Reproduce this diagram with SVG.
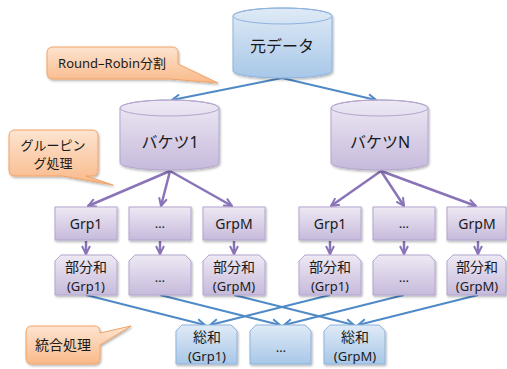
<svg xmlns="http://www.w3.org/2000/svg" width="507" height="369" viewBox="0 0 507 369">
<defs>
<linearGradient id="gBlue" x1="0" y1="0" x2="0" y2="1"><stop offset="0" stop-color="#dfeaf6"/><stop offset="1" stop-color="#a8c7e7"/></linearGradient>
<linearGradient id="gPurp" x1="0" y1="0" x2="0" y2="1"><stop offset="0" stop-color="#eee9f4"/><stop offset="1" stop-color="#c6badb"/></linearGradient>
<linearGradient id="gOr" x1="0" y1="0" x2="0" y2="1"><stop offset="0" stop-color="#fde4d0"/><stop offset="1" stop-color="#f9b98a"/></linearGradient>
<marker id="aP" viewBox="0 0 10 10" refX="9" refY="5" markerWidth="4" markerHeight="4" orient="auto" markerUnits="strokeWidth"><path d="M1,1 L9,5 L1,9" fill="none" stroke="#8a74b8" stroke-width="2"/></marker>
<marker id="aB" viewBox="0 0 10 10" refX="9" refY="5" markerWidth="5" markerHeight="5" orient="auto" markerUnits="strokeWidth"><path d="M1,1 L9,5 L1,9" fill="none" stroke="#4f8ac6" stroke-width="2"/></marker>
<filter id="sh" x="-10%" y="-10%" width="130%" height="130%"><feDropShadow dx="1" dy="1.5" stdDeviation="1" flood-color="#000" flood-opacity="0.3"/></filter>
</defs>
<style>
text{font-family:"Noto Sans","Noto Sans CJK JP",sans-serif;fill:#1a1a1a;text-anchor:middle}
.t16{font-size:16px}
.t14{font-size:14px}
.t13{font-size:13px}
.p{fill:url(#gPurp);stroke:#b3a6cf;stroke-width:1}
.b{fill:url(#gBlue);stroke:#8eb3dd;stroke-width:1}
.o{fill:url(#gOr);stroke:#f2a265;stroke-width:1}
.ap{stroke:#8a74b8;stroke-width:2.5;fill:none;marker-end:url(#aP)}
.ab{stroke:#4f8ac6;stroke-width:2;fill:none;marker-end:url(#aB)}
</style>

<g id="connectors">
<line class="ab" x1="282" y1="78" x2="172" y2="100"/>
<line class="ab" x1="282" y1="78" x2="376" y2="100"/>
<line class="ap" x1="170" y1="171" x2="88" y2="206"/>
<line class="ap" x1="170" y1="171" x2="161" y2="206"/>
<line class="ap" x1="170" y1="171" x2="232" y2="206"/>
<line class="ap" x1="381" y1="171" x2="331" y2="206"/>
<line class="ap" x1="381" y1="171" x2="404" y2="206"/>
<line class="ap" x1="381" y1="171" x2="476" y2="206"/>
<line class="ap" x1="86" y1="241" x2="86" y2="254"/>
<line class="ap" x1="160" y1="241" x2="160" y2="254"/>
<line class="ap" x1="234" y1="241" x2="234" y2="254"/>
<line class="ap" x1="330" y1="241" x2="330" y2="254"/>
<line class="ap" x1="404" y1="241" x2="404" y2="254"/>
<line class="ap" x1="478" y1="241" x2="478" y2="254"/>
<line class="ab" x1="86" y1="295" x2="205" y2="325"/>
<line class="ab" x1="160" y1="295" x2="280" y2="325"/>
<line class="ab" x1="234" y1="295" x2="354" y2="325"/>
<line class="ab" x1="330" y1="295" x2="210" y2="325"/>
<line class="ab" x1="404" y1="295" x2="284" y2="325"/>
<line class="ab" x1="478" y1="295" x2="358" y2="325"/>
</g>

<g id="src">
<path class="b" filter="url(#sh)" d="M233,16 A49.5,8 0 0 1 332,16 L332,71 A49.5,7 0 0 1 233,71 Z"/>
<ellipse cx="282.5" cy="16" rx="49.5" ry="8" fill="none" stroke="#8eb3dd"/>
<text class="t16" x="282" y="52">元データ</text>
</g>

<g id="bucket1">
<path class="p" filter="url(#sh)" d="M120,108 A49.5,8 0 0 1 219,108 L219,163 A49.5,7 0 0 1 120,163 Z"/>
<ellipse cx="169.5" cy="108" rx="49.5" ry="8" fill="none" stroke="#b3a6cf"/>
<text class="t16" x="170" y="148">バケツ1</text>
</g>

<g id="bucketN">
<path class="p" filter="url(#sh)" d="M331,108 A48.5,8 0 0 1 428,108 L428,163 A48.5,7 0 0 1 331,163 Z"/>
<ellipse cx="379.5" cy="108" rx="48.5" ry="8" fill="none" stroke="#b3a6cf"/>
<text class="t16" x="380" y="148">バケツN</text>
</g>

<g id="grp-l1"><rect class="p" filter="url(#sh)" x="55" y="207" width="62" height="33"/><text class="t14" x="86" y="229">Grp1</text></g>
<g id="grp-l2"><rect class="p" filter="url(#sh)" x="129" y="207" width="62" height="33"/><text class="t13" x="160" y="228">…</text></g>
<g id="grp-l3"><rect class="p" filter="url(#sh)" x="203" y="207" width="62" height="33"/><text class="t14" x="234" y="229">GrpM</text></g>
<g id="grp-r1"><rect class="p" filter="url(#sh)" x="299" y="207" width="62" height="33"/><text class="t14" x="330" y="229">Grp1</text></g>
<g id="grp-r2"><rect class="p" filter="url(#sh)" x="373" y="207" width="62" height="33"/><text class="t13" x="404" y="228">…</text></g>
<g id="grp-r3"><rect class="p" filter="url(#sh)" x="447" y="207" width="59" height="33"/><text class="t14" x="477" y="229">GrpM</text></g>

<g id="part-l1"><path class="p" filter="url(#sh)" d="M61,255 H111 L117,261 V295 H55 V261 Z"/><text class="t14" x="86" y="272">部分和</text><text class="t13" x="86" y="291">(Grp1)</text></g>
<g id="part-l2"><path class="p" filter="url(#sh)" d="M135,255 H185 L191,261 V295 H129 V261 Z"/><text class="t13" x="160" y="282">…</text></g>
<g id="part-l3"><path class="p" filter="url(#sh)" d="M209,255 H259 L265,261 V295 H203 V261 Z"/><text class="t14" x="234" y="272">部分和</text><text class="t13" x="234" y="291">(GrpM)</text></g>
<g id="part-r1"><path class="p" filter="url(#sh)" d="M305,255 H355 L361,261 V295 H299 V261 Z"/><text class="t14" x="330" y="272">部分和</text><text class="t13" x="330" y="291">(Grp1)</text></g>
<g id="part-r2"><path class="p" filter="url(#sh)" d="M379,255 H429 L435,261 V295 H373 V261 Z"/><text class="t13" x="404" y="282">…</text></g>
<g id="part-r3"><path class="p" filter="url(#sh)" d="M453,255 H500 L506,261 V295 H447 V261 Z"/><text class="t14" x="477" y="272">部分和</text><text class="t13" x="477" y="291">(GrpM)</text></g>

<g id="sum1"><path class="b" filter="url(#sh)" d="M182,325 H231 L237,331 V364 H176 V331 Z"/><text class="t14" x="207" y="342">総和</text><text class="t13" x="207" y="361">(Grp1)</text></g>
<g id="sum2"><path class="b" filter="url(#sh)" d="M256,325 H305 L311,331 V364 H250 V331 Z"/><text class="t13" x="281" y="352">…</text></g>
<g id="sum3"><path class="b" filter="url(#sh)" d="M330,325 H379 L385,331 V364 H324 V331 Z"/><text class="t14" x="355" y="342">総和</text><text class="t13" x="355" y="361">(GrpM)</text></g>

<g id="callout-rr">
<path class="o" filter="url(#sh)" d="M53,47 H172 Q178,47 178,53 V64 L218,83 L170,79 H53 Q47,79 47,73 V53 Q47,47 53,47 Z"/>
<text class="t13" x="112" y="68">Round–Robin分割</text>
</g>
<g id="callout-grp">
<path class="o" filter="url(#sh)" d="M15,130 H92 Q98,130 98,136 V170 Q98,176 92,176 H86 L113,185 L63,176 H15 Q9,176 9,170 V136 Q9,130 15,130 Z"/>
<text class="t13" x="53" y="150">グルーピン</text>
<text class="t13" x="53" y="168">グ処理</text>
</g>
<g id="callout-merge">
<path class="o" filter="url(#sh)" d="M32,326 H94 Q100,326 100,332 V333 L131,326 L100,345 V358 Q100,364 94,364 H32 Q26,364 26,358 V332 Q26,326 32,326 Z"/>
<text class="t14" x="63" y="350">統合処理</text>
</g>
</svg>
